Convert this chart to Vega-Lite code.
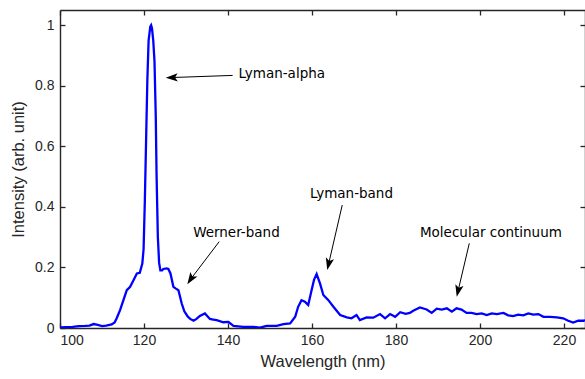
{
  "$schema": "https://vega.github.io/schema/vega-lite/v6.json",
  "width": 525,
  "height": 318,
  "autosize": {"type": "none"},
  "padding": {"left": 60, "top": 10, "right": 0, "bottom": 51},
  "background": "white",
  "config": {
    "view": {"stroke": null},
    "axis": {
      "grid": false,
      "domainColor": "#262626",
      "domainWidth": 1.4,
      "tickColor": "#262626",
      "tickWidth": 1.3,
      "tickSize": -5,
      "labelColor": "#262626",
      "labelFont": "Liberation Sans",
      "labelFontSize": 14,
      "titleFont": "Liberation Sans",
      "titleFontSize": 16.5,
      "titleFontWeight": "normal",
      "titleColor": "#262626"
    }
  },
  "datasets": {
    "spectrum": [
      {"wavelength": 100.0, "intensity": 0.002},
      {"wavelength": 101.5, "intensity": 0.003},
      {"wavelength": 103.0, "intensity": 0.004},
      {"wavelength": 104.5, "intensity": 0.006},
      {"wavelength": 106.0, "intensity": 0.007},
      {"wavelength": 107.0, "intensity": 0.008},
      {"wavelength": 108.0, "intensity": 0.013},
      {"wavelength": 109.0, "intensity": 0.010},
      {"wavelength": 110.0, "intensity": 0.006},
      {"wavelength": 111.0, "intensity": 0.008},
      {"wavelength": 112.3, "intensity": 0.012},
      {"wavelength": 113.0, "intensity": 0.018},
      {"wavelength": 113.5, "intensity": 0.032},
      {"wavelength": 114.3, "intensity": 0.059},
      {"wavelength": 115.1, "intensity": 0.092},
      {"wavelength": 115.9, "intensity": 0.125},
      {"wavelength": 116.7, "intensity": 0.136},
      {"wavelength": 117.5, "intensity": 0.158},
      {"wavelength": 118.3, "intensity": 0.180},
      {"wavelength": 119.0, "intensity": 0.182},
      {"wavelength": 119.6, "intensity": 0.213},
      {"wavelength": 119.9, "intensity": 0.26},
      {"wavelength": 120.2, "intensity": 0.42},
      {"wavelength": 120.5, "intensity": 0.62},
      {"wavelength": 120.8, "intensity": 0.82},
      {"wavelength": 121.1, "intensity": 0.95},
      {"wavelength": 121.5, "intensity": 0.995},
      {"wavelength": 121.7, "intensity": 1.0},
      {"wavelength": 121.9, "intensity": 0.99},
      {"wavelength": 122.2, "intensity": 0.95},
      {"wavelength": 122.5, "intensity": 0.88},
      {"wavelength": 122.8, "intensity": 0.70},
      {"wavelength": 123.0, "intensity": 0.50},
      {"wavelength": 123.3, "intensity": 0.30},
      {"wavelength": 123.6, "intensity": 0.215},
      {"wavelength": 123.9, "intensity": 0.19},
      {"wavelength": 124.3, "intensity": 0.19},
      {"wavelength": 124.6, "intensity": 0.195},
      {"wavelength": 125.4, "intensity": 0.197},
      {"wavelength": 125.8, "intensity": 0.195},
      {"wavelength": 126.3, "intensity": 0.18},
      {"wavelength": 127.0, "intensity": 0.136},
      {"wavelength": 127.6, "intensity": 0.13},
      {"wavelength": 128.2, "intensity": 0.125},
      {"wavelength": 129.0, "intensity": 0.08},
      {"wavelength": 129.6, "intensity": 0.055},
      {"wavelength": 130.4, "intensity": 0.038},
      {"wavelength": 131.0, "intensity": 0.03},
      {"wavelength": 131.8, "intensity": 0.024},
      {"wavelength": 132.5, "intensity": 0.03},
      {"wavelength": 133.3, "intensity": 0.04},
      {"wavelength": 134.5, "intensity": 0.048},
      {"wavelength": 135.7, "intensity": 0.03},
      {"wavelength": 136.5, "intensity": 0.028},
      {"wavelength": 137.3, "intensity": 0.026},
      {"wavelength": 138.9, "intensity": 0.019},
      {"wavelength": 140.1, "intensity": 0.02},
      {"wavelength": 141.3, "intensity": 0.007},
      {"wavelength": 143.6, "intensity": 0.004},
      {"wavelength": 146.0, "intensity": 0.004},
      {"wavelength": 147.6, "intensity": 0.001},
      {"wavelength": 149.2, "intensity": 0.007},
      {"wavelength": 151.6, "intensity": 0.007},
      {"wavelength": 153.2, "intensity": 0.013},
      {"wavelength": 154.8, "intensity": 0.015},
      {"wavelength": 156.0, "intensity": 0.037},
      {"wavelength": 156.7, "intensity": 0.07},
      {"wavelength": 157.5, "intensity": 0.092},
      {"wavelength": 158.3, "intensity": 0.087},
      {"wavelength": 159.1, "intensity": 0.076},
      {"wavelength": 159.9, "intensity": 0.125},
      {"wavelength": 160.5, "intensity": 0.16},
      {"wavelength": 161.1, "intensity": 0.178},
      {"wavelength": 161.9, "intensity": 0.147},
      {"wavelength": 162.7, "intensity": 0.109},
      {"wavelength": 163.9, "intensity": 0.092},
      {"wavelength": 165.1, "intensity": 0.07},
      {"wavelength": 166.7, "intensity": 0.043},
      {"wavelength": 168.3, "intensity": 0.035},
      {"wavelength": 169.4, "intensity": 0.032},
      {"wavelength": 170.6, "intensity": 0.043},
      {"wavelength": 171.4, "intensity": 0.026},
      {"wavelength": 173.0, "intensity": 0.035},
      {"wavelength": 174.6, "intensity": 0.034},
      {"wavelength": 176.2, "intensity": 0.046},
      {"wavelength": 177.4, "intensity": 0.032},
      {"wavelength": 178.6, "intensity": 0.046},
      {"wavelength": 179.8, "intensity": 0.037},
      {"wavelength": 181.0, "intensity": 0.052},
      {"wavelength": 182.3, "intensity": 0.047},
      {"wavelength": 183.3, "intensity": 0.05},
      {"wavelength": 184.1, "intensity": 0.057},
      {"wavelength": 185.7, "intensity": 0.068},
      {"wavelength": 187.3, "intensity": 0.061},
      {"wavelength": 188.5, "intensity": 0.05},
      {"wavelength": 189.7, "intensity": 0.064},
      {"wavelength": 190.9, "intensity": 0.061},
      {"wavelength": 192.1, "intensity": 0.065},
      {"wavelength": 193.3, "intensity": 0.054},
      {"wavelength": 194.4, "intensity": 0.065},
      {"wavelength": 195.6, "intensity": 0.061},
      {"wavelength": 196.8, "intensity": 0.05},
      {"wavelength": 198.0, "intensity": 0.05},
      {"wavelength": 199.2, "intensity": 0.046},
      {"wavelength": 200.4, "intensity": 0.048},
      {"wavelength": 201.6, "intensity": 0.043},
      {"wavelength": 202.8, "intensity": 0.048},
      {"wavelength": 204.0, "intensity": 0.046},
      {"wavelength": 205.6, "intensity": 0.05},
      {"wavelength": 206.7, "intensity": 0.042},
      {"wavelength": 207.9, "intensity": 0.039},
      {"wavelength": 209.1, "intensity": 0.044},
      {"wavelength": 210.3, "intensity": 0.042},
      {"wavelength": 211.5, "intensity": 0.048},
      {"wavelength": 212.7, "intensity": 0.044},
      {"wavelength": 213.9, "intensity": 0.046},
      {"wavelength": 215.1, "intensity": 0.037},
      {"wavelength": 216.7, "intensity": 0.037},
      {"wavelength": 218.3, "intensity": 0.035},
      {"wavelength": 219.8, "intensity": 0.032},
      {"wavelength": 221.0, "intensity": 0.024},
      {"wavelength": 222.2, "intensity": 0.018},
      {"wavelength": 223.4, "intensity": 0.024},
      {"wavelength": 224.6, "intensity": 0.024},
      {"wavelength": 225.0, "intensity": 0.025}
    ],
    "notes": [
      {"label": "Lyman-alpha", "textX": 142.5, "textY": 0.824, "tailX": 141.1, "tailY": 0.834, "headX": 126.6, "headY": 0.827, "angle": 268},
      {"label": "Werner-band", "textX": 131.7, "textY": 0.301, "tailX": 137.9, "tailY": 0.285, "headX": 131.1, "headY": 0.161, "angle": 213},
      {"label": "Lyman-band", "textX": 159.5, "textY": 0.428, "tailX": 167.2, "tailY": 0.406, "headX": 163.95, "headY": 0.211, "angle": 193},
      {"label": "Molecular continuum", "textX": 185.7, "textY": 0.301, "tailX": 197.45, "tailY": 0.2795, "headX": 194.78, "headY": 0.1224, "angle": 193}
    ]
  },
  "layer": [
    {
      "data": {"name": "spectrum"},
      "mark": {"type": "line", "color": "#0000ff", "strokeWidth": 2.3, "clip": true},
      "encoding": {
        "x": {
          "field": "wavelength", "type": "quantitative",
          "scale": {"domain": [100, 225], "nice": false, "zero": false},
          "axis": {"orient": "bottom", "values": [100, 120, 140, 160, 180, 200, 220], "title": "Wavelength (nm)", "labelPadding": 10, "titlePadding": 6}
        },
        "y": {
          "field": "intensity", "type": "quantitative",
          "scale": {"domain": [0, 1.05], "nice": false, "zero": false},
          "axis": {"orient": "left", "values": [0, 0.2, 0.4, 0.6, 0.8, 1], "format": "~g", "title": "Intensity (arb. unit)", "labelPadding": 11, "titlePadding": 8}
        }
      }
    },
    {
      "data": {"name": "spectrum"},
      "mark": {"type": "line", "opacity": 0},
      "encoding": {
        "x": {
          "field": "wavelength", "type": "quantitative",
          "axis": {"orient": "top", "values": [100, 120, 140, 160, 180, 200, 220], "labels": false, "title": null}
        },
        "y": {
          "field": "intensity", "type": "quantitative",
          "axis": {"orient": "right", "values": [0, 0.2, 0.4, 0.6, 0.8, 1], "labels": false, "title": null}
        }
      }
    },
    {
      "data": {"name": "notes"},
      "mark": {"type": "rule", "color": "black", "strokeWidth": 1},
      "encoding": {
        "x": {"field": "tailX", "type": "quantitative", "axis": null},
        "y": {"field": "tailY", "type": "quantitative", "axis": null},
        "x2": {"field": "headX"},
        "y2": {"field": "headY"}
      }
    },
    {
      "data": {"name": "notes"},
      "mark": {"type": "point", "shape": "M0,-1L0.7,1L0,0.55L-0.7,1Z", "filled": true, "color": "black", "opacity": 1, "size": 144},
      "encoding": {
        "x": {"field": "headX", "type": "quantitative", "axis": null},
        "y": {"field": "headY", "type": "quantitative", "axis": null},
        "angle": {"field": "angle", "type": "quantitative", "scale": null}
      }
    },
    {
      "data": {"name": "notes"},
      "mark": {"type": "text", "align": "left", "baseline": "alphabetic", "font": "DejaVu Sans", "fontSize": 13.5, "color": "black"},
      "encoding": {
        "x": {"field": "textX", "type": "quantitative", "axis": null},
        "y": {"field": "textY", "type": "quantitative", "axis": null},
        "text": {"field": "label"}
      }
    }
  ],
  "resolve": {"axis": {"x": "independent", "y": "independent"}}
}
